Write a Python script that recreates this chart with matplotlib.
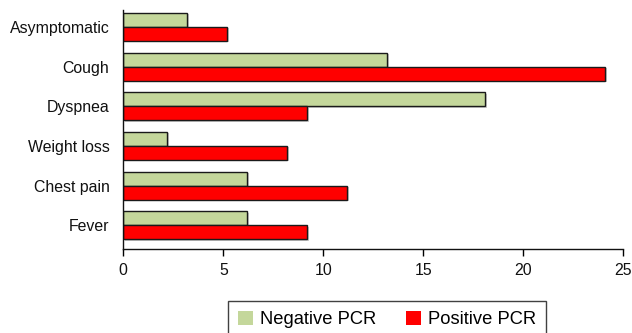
import numpy as np
import matplotlib
matplotlib.use("Agg")
from matplotlib import pyplot as plt
from matplotlib.patches import Patch
import matplotlib.patheffects as pe

plt.rcParams['font.family'] = ['Liberation Sans', 'DejaVu Sans']

# symptom categories, top to bottom
categories = ['Asymptomatic', 'Cough', 'Dyspnea', 'Weight loss', 'Chest pain', 'Fever']
negative_pcr = [3.2, 13.2, 18.1, 2.2, 6.2, 6.2]
positive_pcr = [5.2, 24.1, 9.2, 8.2, 11.2, 9.2]
x_ticks = [0, 5, 10, 15, 20, 25]
legend_labels = ['Negative PCR', 'Positive PCR']

green = '#c4d79b'
red = '#ff0000'

fig = plt.figure(figsize=(6.32, 3.33), dpi=100)
ax = fig.add_axes([123.3 / 632, 84 / 333, 500 / 632, 239 / 333])

y = np.arange(len(categories))
h = 0.354
shadow = [pe.SimplePatchShadow(offset=(1, -1), shadow_rgbFace='#999999', alpha=0.5), pe.Normal()]
ax.barh(y - h / 2, negative_pcr, height=h, color=green, edgecolor='#1a1a1a',
        linewidth=1.0, path_effects=shadow)
ax.barh(y + h / 2, positive_pcr, height=h, color=red, edgecolor='#1a1a1a',
        linewidth=1.0, path_effects=shadow)

ax.set_ylim(len(categories) - 1 + 0.6, -0.43)
ax.set_xlim(0, 25)
ax.set_yticks(y)
ax.set_yticklabels(categories)
ax.set_xticks(x_ticks)
ax.tick_params(axis='y', length=0, pad=10, labelsize=11.4, labelcolor='#111111')
ax.tick_params(axis='x', length=5, width=1, direction='out', pad=5,
               labelsize=11.4, labelcolor='#111111')

for s in ['top', 'right']:
    ax.spines[s].set_visible(False)
for s in ['left', 'bottom']:
    ax.spines[s].set_linewidth(1.0)
    ax.spines[s].set_color('#111111')

handles = [Patch(facecolor=green, edgecolor='none'), Patch(facecolor=red, edgecolor='none')]
leg = fig.legend(handles, legend_labels, loc='upper left',
                 bbox_to_anchor=(228.3 / 632, (333 - 300.7) / 333),
                 ncol=2, fontsize=13.2, frameon=True, fancybox=False,
                 handlelength=0.82, handleheight=0.82, handletextpad=0.37,
                 columnspacing=1.6, borderpad=0.55, borderaxespad=0)
leg.get_frame().set_edgecolor('#111111')
leg.get_frame().set_linewidth(1.0)

fig.savefig('out.png', dpi=100)
